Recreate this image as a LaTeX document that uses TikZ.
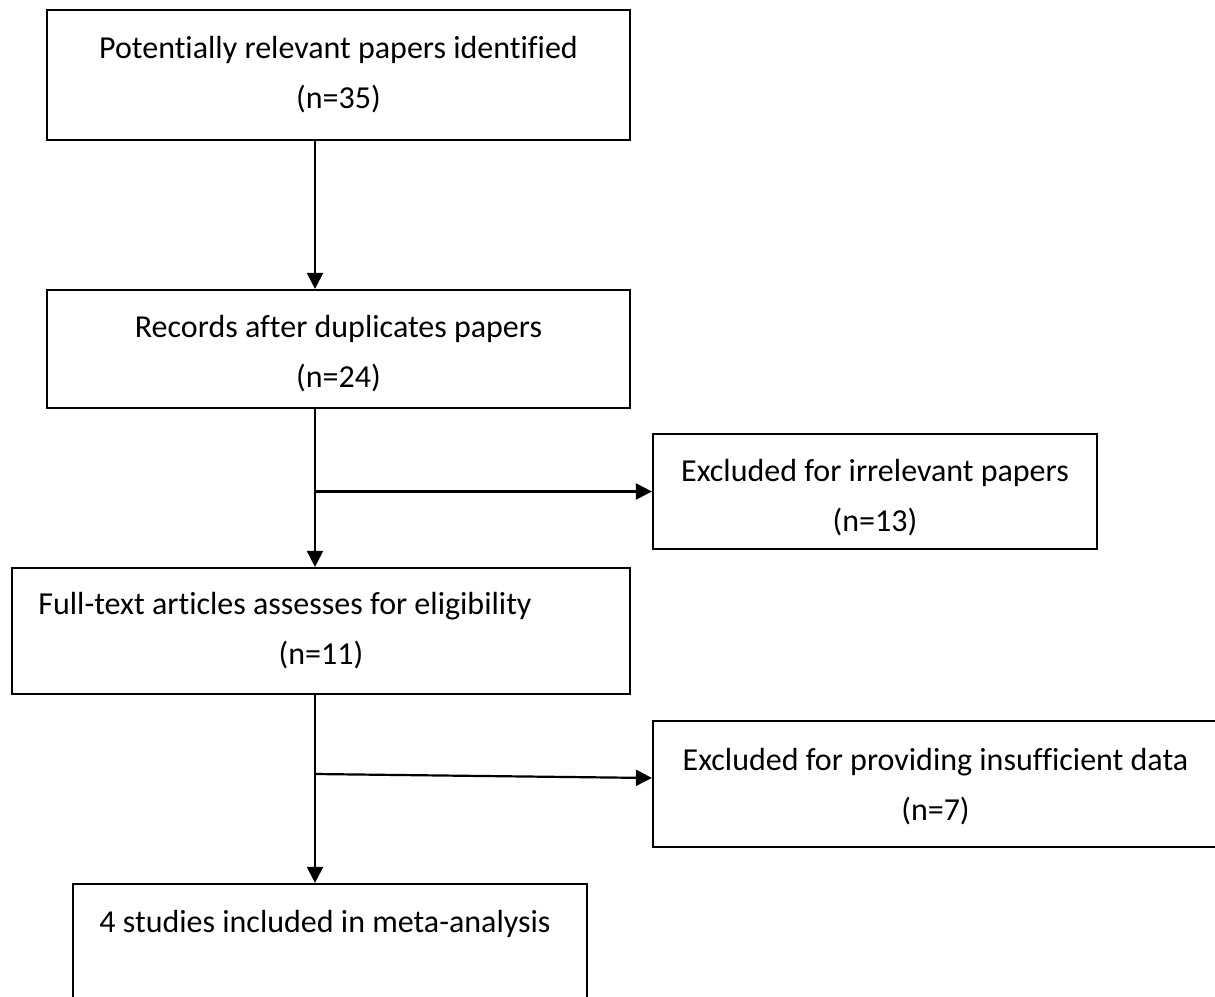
\documentclass[tikz,border=0pt]{standalone}
\usepackage{fontspec}
\setmainfont{Carlito}[Ligatures=NoCommon]
\usetikzlibrary{arrows.meta,calc}
\begin{document}
\begin{tikzpicture}[x=1pt,y=-1pt,
  box/.style={draw=black,line width=2.2pt,rectangle,inner sep=0pt,align=center,
    font=\fontsize{32}{50}\selectfont,text=black},
  conn/.style={line width=2.2pt,-{Triangle[length=16pt,width=16pt]}}]
\useasboundingbox (0,0) rectangle (1215,996);
\clip (0,0) rectangle (1215,996);
\fill[white] (0,0) rectangle (1215,996);
\node[box,minimum width=583pt,minimum height=130pt] (A) at (338.5,75)
  {Potentially relevant papers identified\\(n=35)};
\node[box,minimum width=583pt,minimum height=118pt] (B) at (338.5,349)
  {\rule{0pt}{31pt}Records after duplicates papers\\(n=24)};
\node[box,minimum width=444pt,minimum height=115pt] (C) at (875,491.5)
  {\rule{0pt}{34pt}Excluded for irrelevant papers\\(n=13)};
\node[box,minimum width=618pt,minimum height=126pt] (D) at (321,631)
  {\hspace*{-72pt}Full-text articles assesses for eligibility\\(n=11)};
\node[box,minimum width=565pt,minimum height=126pt] (E) at (935.5,784)
  {\rule{0pt}{28pt}Excluded for providing insufficient data\\(n=7)};
\node[box,minimum width=514pt,minimum height=140pt] (F) at (330,954)
  {\hspace*{-10pt}4 studies included in meta-analysis\\\strut};
\coordinate (spine) at (315,0);
\coordinate (b1) at (315,491.5);
\coordinate (b2) at (315,774);
\draw[conn] (A.south -| spine) -- (B.north -| spine);
\draw[conn] (B.south -| spine) -- (D.north -| spine);
\draw[conn] (b1) -- (C.west);
\draw[conn] (D.south -| spine) -- (F.north -| spine);
\draw[conn] (b2) -- ([yshift=6pt]E.west);
\end{tikzpicture}
\end{document}
